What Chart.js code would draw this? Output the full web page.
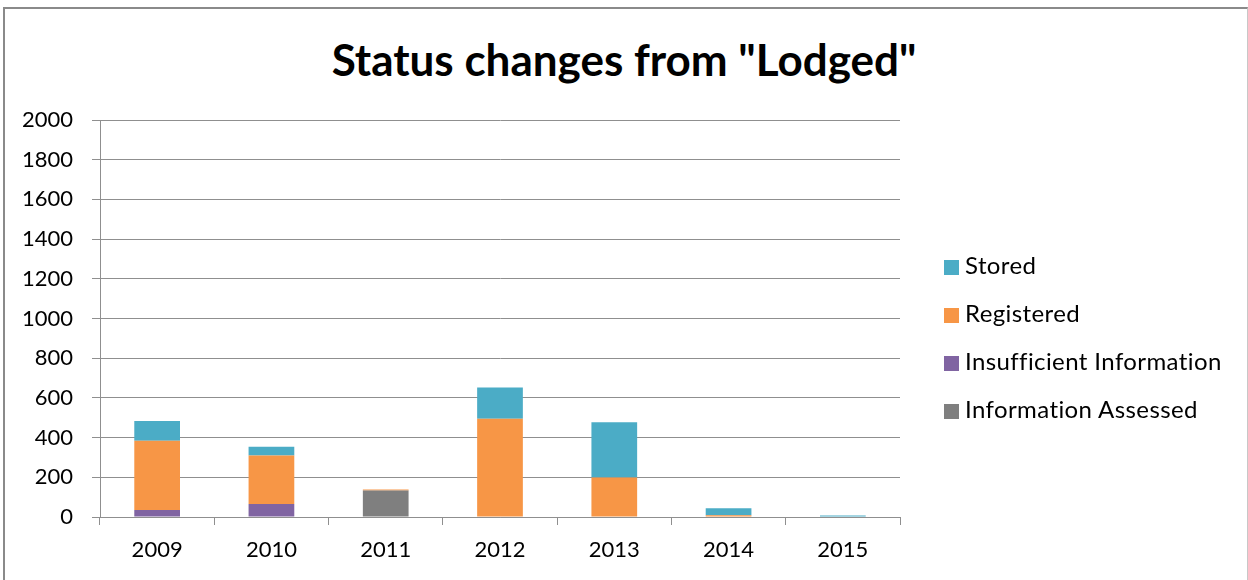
<!DOCTYPE html>
<html>
<head>
<meta charset="utf-8">
<script src="https://cdn.jsdelivr.net/npm/chart.js@4"></script>
<style>
    html, body { margin: 0; padding: 0; background: #fff; }
    .wrap { position: relative; width: 1248px; height: 580px; overflow: hidden; }
    .frame {
        position: absolute; left: 3px; top: 7px; width: 1242px; height: 600px;
        border-top: 2px solid #8a8a8a; border-left: 2px solid #8a8a8a; border-right: 1px solid #c8c8c8;
    }
    canvas { position: absolute; left: 0; top: 0; }
    .title {
        position: absolute; left: 0; top: 32px; width: 1248px; text-align: center;
        font-family: Lato, sans-serif; font-weight: bold; font-size: 44px; line-height: 54px; color: #000;
    }
    .legend { position: absolute; left: 944px; top: 0; font-family: Lato, sans-serif; font-size: 24px; letter-spacing: 0.4px; color: #000; }
    .legend div { position: absolute; white-space: nowrap; line-height: 28px; height: 28px; }
    .legend span { display: inline-block; width: 15px; height: 15px; margin-right: 6px; vertical-align: -1px; }
</style>
</head>
<body>
<div class="wrap">
    <div class="frame"></div>
    <div class="title">Status changes from "Lodged"</div>
    <canvas id="statusChart" width="1248" height="580"></canvas>
    <div class="legend" id="legend"></div>
</div>
<script>
const years = ["2009", "2010", "2011", "2012", "2013", "2014", "2015"];
const infoAssessed = [0, 0, 134, 0, 0, 0, 0];
const insufficientInfo = [35, 66, 0, 0, 0, 0, 0];
const registered = [349, 244, 4, 495, 199, 9, 0];
const stored = [99, 44, 0, 157, 278, 35, 8];
const yTicks = [0, 200, 400, 600, 800, 1000, 1200, 1400, 1600, 1800, 2000];

const gridColor = "#8f8f8f";
const font = { family: "Lato, sans-serif", size: 22 };

// stacked bottom to top
const datasets = [
    { label: "Information Assessed", data: infoAssessed, backgroundColor: "#7f7f7f" },
    { label: "Insufficient Information", data: insufficientInfo, backgroundColor: "#8064a2" },
    { label: "Registered", data: registered, backgroundColor: "#f79646" },
    { label: "Stored", data: stored, backgroundColor: "#4bacc6" }
];

new Chart(document.getElementById("statusChart"), {
    type: "bar",
    data: {
        labels: years,
        datasets: datasets.map(d => ({
            ...d,
            borderWidth: 0,
            barPercentage: 0.4,
            categoryPercentage: 1
        }))
    },
    options: {
        responsive: false,
        animation: false,
        layout: { padding: { left: 0, right: 348, top: 120, bottom: 0 } },
        plugins: {
            legend: { display: false },
            tooltip: { enabled: false }
        },
        scales: {
            x: {
                stacked: true,
                afterFit: scale => { scale.height = 63; },
                grid: { drawOnChartArea: false, drawTicks: true, tickLength: 8, color: gridColor, offset: true },
                border: { color: gridColor, width: 1 },
                ticks: { color: "#000", font: font, padding: 12 }
            },
            y: {
                stacked: true,
                min: 0,
                max: 2000,
                afterFit: scale => { scale.width = 100; },
                afterBuildTicks: scale => { scale.ticks = yTicks.map(v => ({ value: v })); },
                grid: { color: gridColor, tickLength: 8, lineWidth: 1 },
                border: { color: gridColor, width: 1 },
                ticks: { color: "#000", font: font, padding: 19, callback: v => String(v) }
            }
        }
    }
});

// legend, top to bottom reversed like the original
const legendBox = document.getElementById("legend");
const legendTops = [251, 299, 347, 395];
datasets.slice().reverse().forEach((d, i) => {
    const row = document.createElement("div");
    row.style.top = legendTops[i] + "px";
    row.innerHTML = `<span style="background:${d.backgroundColor}"></span>${d.label}`;
    legendBox.appendChild(row);
});
</script>
</body>
</html>
